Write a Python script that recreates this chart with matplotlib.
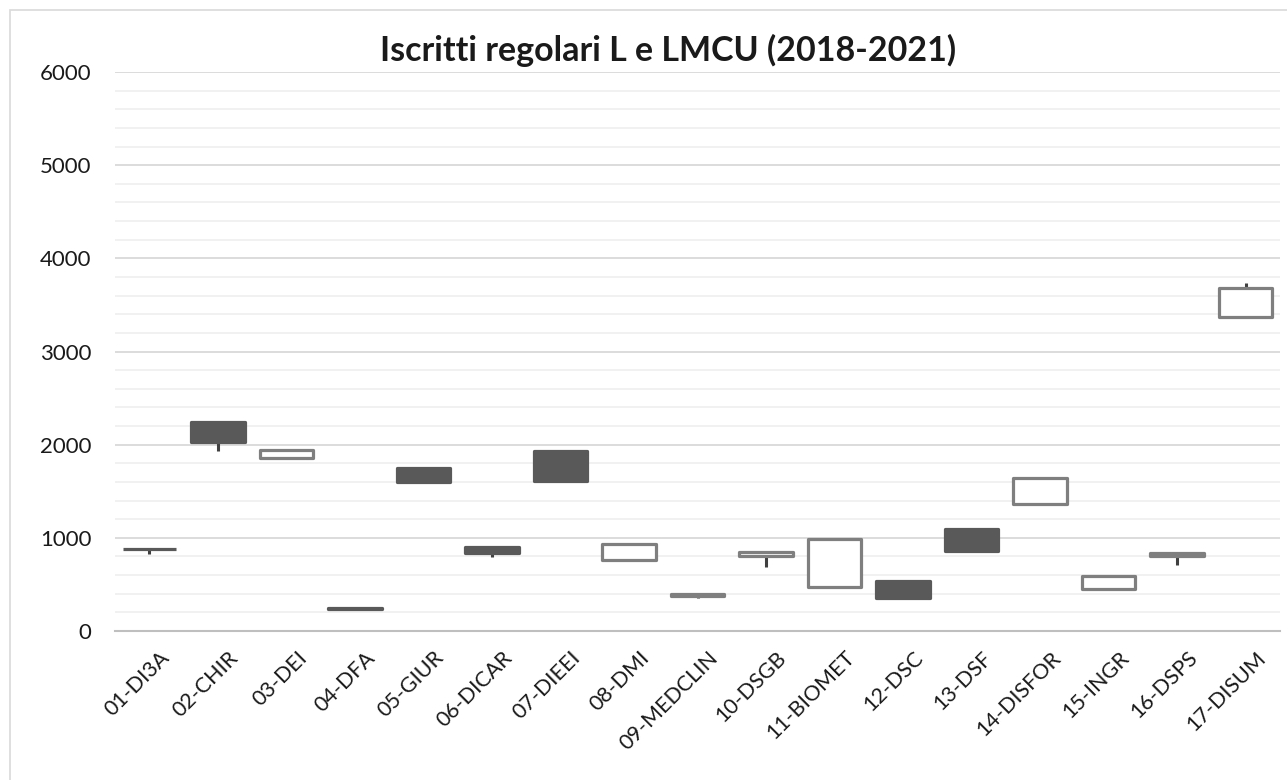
import matplotlib
matplotlib.use("Agg")
import matplotlib.pyplot as plt
from matplotlib.patches import Rectangle
from matplotlib.ticker import MultipleLocator

categories = ["01-DI3A", "02-CHIR", "03-DEI", "04-DFA", "05-GIUR", "06-DICAR",
              "07-DIEEI", "08-DMI", "09-MEDCLIN", "10-DSGB", "11-BIOMET", "12-DSC",
              "13-DSF", "14-DISFOR", "15-INGR", "16-DSPS", "17-DISUM"]
open_ = [885, 2241, 1852, 245, 1747, 899, 1927, 757, 380, 800, 470, 542, 1097, 1361, 456, 807, 3368]
close = [875, 2031, 1945, 234, 1597, 832, 1608, 932, 392, 850, 985, 349, 864, 1637, 592, 835, 3679]
high = [885, 2241, 1945, 245, 1747, 899, 1927, 932, 392, 850, 985, 542, 1097, 1637, 592, 835, 3735]
low = [830, 1935, 1852, 234, 1597, 795, 1608, 757, 355, 690, 470, 349, 864, 1361, 456, 705, 3368]

plt.rcParams["font.family"] = ["Lato", "DejaVu Sans"]

fig = plt.figure(figsize=(12.87, 7.80), dpi=100)
ax = fig.add_axes([115 / 1287, 1 - 631 / 780, 1165 / 1287, 559 / 780])

# chart border
fig.patches.append(Rectangle((10 / 1287, -0.05), 1.1, 1 - 10 / 780 + 0.05,
                             transform=fig.transFigure, fill=False,
                             edgecolor="#d9d9d9", linewidth=1.2, zorder=0))

x = list(range(len(categories)))
ax.vlines(x, low, high, color="#404040", linewidth=2.2, zorder=2)

up_x = [i for i in x if close[i] >= open_[i]]
dn_x = [i for i in x if close[i] < open_[i]]
ax.bar(up_x, [close[i] - open_[i] for i in up_x], bottom=[open_[i] for i in up_x],
       width=0.78, color="white", edgecolor="#7f7f7f", linewidth=2.3,
       joinstyle="round", zorder=3)
ax.bar(dn_x, [open_[i] - close[i] for i in dn_x], bottom=[close[i] for i in dn_x],
       width=0.78, color="#595959", edgecolor="#595959", linewidth=2.3,
       joinstyle="round", zorder=3)

ax.set_xlim(-0.5, len(categories) - 0.5)
ax.set_ylim(0, 6000)
ax.yaxis.set_major_locator(MultipleLocator(1000))
ax.yaxis.set_minor_locator(MultipleLocator(200))
ax.grid(which="major", axis="y", color="#d9d9d9", linewidth=1.3, zorder=0)
ax.grid(which="minor", axis="y", color="#f0f0f0", linewidth=1.3, zorder=0)
ax.set_axisbelow(True)
for s in ["top", "right", "left"]:
    ax.spines[s].set_visible(False)
ax.spines["bottom"].set_color("#bfbfbf")
ax.spines["bottom"].set_linewidth(1.5)

ax.set_xticks([i + 0.15 for i in x])
ax.set_xticklabels(categories, rotation=45, ha="right", rotation_mode="anchor",
                   fontsize=15.5, color="#1a1a1a")
ax.tick_params(axis="x", length=0, pad=12)
ax.tick_params(axis="y", which="both", length=0, pad=17, labelsize=16, labelcolor="#1a1a1a")

fig.text(668 / 1287, 1 - 50 / 780, "Iscritti regolari L e LMCU (2018-2021)",
         ha="center", va="center", fontsize=24.5, fontweight="bold", color="#1a1a1a")

fig.savefig("out.png", dpi=100)
